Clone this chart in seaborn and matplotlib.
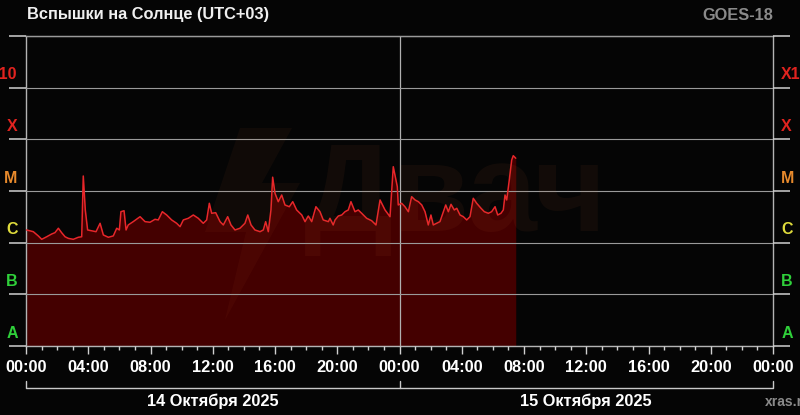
import numpy as np
import pandas as pd
import matplotlib
matplotlib.use("Agg")
import matplotlib.pyplot as plt
import matplotlib.transforms as mtransforms
from matplotlib.patches import Polygon
import seaborn as sns

# GOES X-ray flux, hours since 14 Oct 2025 00:00 (UTC+03), W/m^2
hours = [
    0.04, 0.47, 0.79, 1.01, 1.33, 1.65, 1.86, 2.08, 2.29, 2.51, 2.72, 3.04, 3.36, 3.58,
    3.68, 3.81, 3.96, 4.22, 4.50, 4.76, 4.97, 5.29, 5.61, 5.83, 6.00, 6.10, 6.30, 6.43,
    6.57, 6.89, 7.33, 7.65, 7.97, 8.29, 8.50, 8.76, 9.04, 9.36, 9.68, 9.90, 10.11, 10.43,
    10.75, 11.07, 11.39, 11.61, 11.78, 11.93, 12.19, 12.47, 12.68, 12.96, 13.17, 13.43,
    13.75, 14.07, 14.25, 14.46, 14.71, 15.04, 15.25, 15.40, 15.57, 15.74, 15.85, 16.00,
    16.21, 16.43, 16.64, 16.92, 17.14, 17.39, 17.72, 17.93, 18.14, 18.36, 18.63, 18.89,
    19.10, 19.43, 19.53, 19.74, 19.86, 20.07, 20.29, 20.50, 20.71, 20.88, 21.14, 21.35,
    21.57, 21.89, 22.21, 22.49, 22.75, 23.07, 23.39, 23.60, 23.86, 23.92, 24.14, 24.35,
    24.57, 24.78, 25.00, 25.21, 25.43, 25.64, 25.85, 26.02, 26.17, 26.39, 26.60, 26.82,
    26.97, 27.14, 27.31, 27.52, 27.68, 27.89, 28.10, 28.32, 28.53, 28.74, 28.96, 29.24,
    29.45, 29.71, 29.92, 30.14, 30.31, 30.52, 30.67, 30.78, 30.89, 31.04, 31.21, 31.31,
    31.47,
]
flux = [
    1.76e-6, 1.63e-6, 1.35e-6, 1.16e-6, 1.30e-6, 1.47e-6, 1.56e-6, 1.90e-6, 1.56e-6,
    1.30e-6, 1.21e-6, 1.16e-6, 1.27e-6, 1.30e-6, 1.95e-5, 4.29e-6, 1.76e-6, 1.70e-6,
    1.63e-6, 2.37e-6, 1.41e-6, 1.27e-6, 1.35e-6, 1.90e-6, 1.76e-6, 3.97e-6, 4.15e-6,
    1.76e-6, 2.20e-6, 2.55e-6, 3.18e-6, 2.55e-6, 2.48e-6, 2.83e-6, 2.75e-6, 3.97e-6,
    3.43e-6, 2.75e-6, 2.37e-6, 2.04e-6, 2.75e-6, 2.96e-6, 3.43e-6, 2.96e-6, 2.37e-6,
    2.75e-6, 5.78e-6, 3.70e-6, 3.80e-6, 2.55e-6, 2.20e-6, 3.18e-6, 2.20e-6, 1.76e-6,
    1.90e-6, 2.37e-6, 3.43e-6, 2.20e-6, 1.76e-6, 1.63e-6, 1.76e-6, 2.55e-6, 1.63e-6,
    4.29e-6, 1.85e-5, 9.02e-6, 6.21e-6, 8.36e-6, 5.36e-6, 4.96e-6, 6.21e-6, 4.29e-6,
    3.43e-6, 2.55e-6, 3.28e-6, 2.55e-6, 4.96e-6, 3.97e-6, 2.75e-6, 2.55e-6, 2.96e-6,
    2.20e-6, 2.75e-6, 3.28e-6, 3.43e-6, 3.97e-6, 4.29e-6, 6.21e-6, 3.97e-6, 4.29e-6,
    3.70e-6, 2.96e-6, 2.66e-6, 2.20e-6, 6.70e-6, 4.29e-6, 3.18e-6, 2.95e-5, 1.21e-5,
    5.36e-6, 5.78e-6, 4.96e-6, 3.97e-6, 7.76e-6, 6.70e-6, 6.21e-6, 5.36e-6, 3.97e-6,
    2.20e-6, 3.43e-6, 2.20e-6, 2.37e-6, 2.55e-6, 3.97e-6, 5.36e-6, 3.97e-6, 5.52e-6,
    4.29e-6, 4.62e-6, 3.43e-6, 3.18e-6, 2.75e-6, 3.18e-6, 7.22e-6, 5.78e-6, 4.62e-6,
    3.97e-6, 3.70e-6, 3.97e-6, 4.96e-6, 3.43e-6, 3.70e-6, 4.29e-6, 8.36e-6, 6.70e-6,
    1.51e-5, 3.98e-5, 4.82e-5, 4.30e-5,
]

class_levels = [1e-8, 1e-7, 1e-6, 1e-5, 1e-4, 1e-3, 1e-2]
class_labels = ["A", "B", "C", "M", "X", "X10"]
class_label_pos = [1.9e-8, 1.9e-7, 1.9e-6, 1.9e-5, 1.9e-4, 1.9e-3]
class_colors = ["#2fd03a", "#2fd03a", "#e0dc3c", "#e88a2c", "#e0231f", "#e0231f"]

major_hours = list(range(0, 49, 4))
minor_hours = list(range(0, 49, 1))
tick_labels = ["00:00", "04:00", "08:00", "12:00", "16:00", "20:00",
               "00:00", "04:00", "08:00", "12:00", "16:00", "20:00", "00:00"]
day_labels = ["14 Октября 2025", "15 Октября 2025"]
day_centers = [12, 36]

df = pd.DataFrame({"hour": hours, "flux": flux})

bg = "#050505"
fs = 11.8
sns.set_style("dark")
plt.rcParams["font.family"] = ["Liberation Sans", "DejaVu Sans"]
plt.rcParams["font.weight"] = "bold"

fig = plt.figure(figsize=(8, 4.15), dpi=100, facecolor=bg)
ax = fig.add_axes([0.0325, 0.1663, 0.93375, 0.747])
ax.set_facecolor(bg)

# watermark
fig.text(0.57, 0.52, "Двач", fontsize=90, color="#c86432", alpha=0.07,
         ha="center", va="center", zorder=0)
bolt = [(240, 128), (292, 128), (262, 183), (300, 183), (225, 320), (246, 232), (205, 232)]
fig.patches.append(Polygon([(x / 800, 1 - y / 415) for x, y in bolt], closed=True,
                           transform=fig.transFigure, facecolor="#c86432", alpha=0.06,
                           edgecolor="none", zorder=0))

ax.fill_between(df["hour"], df["flux"], 1e-8, color="#440000", linewidth=0, zorder=1)
sns.lineplot(data=df, x="hour", y="flux", ax=ax, color="#e8262a", linewidth=1.1,
             zorder=3, sort=False)

ax.set_yscale("log")
ax.set_xlim(0, 48)
ax.set_ylim(1e-8, 1e-2)

# y axis: class boundaries and labels
ax.set_yticks(class_levels)
ax.set_yticklabels([])
ax.set_yticks(class_label_pos, minor=True)
ax.set_yticklabels(class_labels, minor=True)
ax.tick_params(axis="y", which="major", length=12.5, width=1.1, color="#d0d0d0",
               left=True, right=True, direction="out")
ax.tick_params(axis="y", which="minor", length=0, pad=6, labelsize=11.5,
               left=True, right=True, labelleft=True, labelright=True)
for tick, c in zip(ax.yaxis.get_minor_ticks(), class_colors):
    for lab in (tick.label1, tick.label2):
        lab.set_color(c)
        lab.set_fontweight("bold")

# x axis
ax.set_xticks(major_hours)
ax.set_xticklabels(tick_labels)
ax.set_xticks(minor_hours, minor=True)
ax.tick_params(axis="x", which="major", length=5.8, width=1, color="#d0d0d0",
               labelsize=fs, labelcolor="white", pad=4.5, bottom=True)
ax.tick_params(axis="x", which="minor", length=2.9, width=1, color="#d0d0d0", bottom=True)
for lab in ax.get_xticklabels():
    lab.set_fontweight("bold")

ax.grid(False)
ax.grid(axis="y", which="major", color="#9a9a9a", linewidth=0.8)
ax.set_axisbelow(False)
ax.axvline(24, color="#b0b0b0", linewidth=0.9, zorder=2.5)
for side in ["left", "right", "top", "bottom"]:
    ax.spines[side].set_visible(True)
    ax.spines[side].set_color("#b4b4b4")
    ax.spines[side].set_linewidth(1.0)
ax.set_xlabel("")
ax.set_ylabel("")

# date brackets under the axis
trans = mtransforms.blended_transform_factory(ax.transData, ax.transAxes)
y_hi, y_lo = -0.113, -0.1355
ax.plot([0, 0, 24, 24], [y_hi, y_lo, y_lo, y_hi], transform=trans, clip_on=False,
        color="#c8c8c8", linewidth=1.0)
ax.plot([24, 48, 48], [y_lo, y_lo, y_hi], transform=trans, clip_on=False,
        color="#c8c8c8", linewidth=1.0)
for xc, txt in zip(day_centers, day_labels):
    ax.text(xc, -0.177, txt, transform=trans, ha="center", va="center",
            fontsize=fs, fontweight="bold", color="white")

fig.text(27 / 800, 1 - 15 / 415, "Вспышки на Солнце (UTC+03)", ha="left", va="center",
         fontsize=fs, fontweight="bold", color="#f0f0f0")
fig.text(773 / 800, 1 - 16 / 415, "GOES-18", ha="right", va="center",
         fontsize=fs, fontweight="bold", color="#8a8a8a")
fig.text(765 / 800, 1 - 402 / 415, "xras.ru", ha="left", va="center",
         fontsize=10, fontweight="bold", color="#8a8a8a")

fig.savefig("out.png", dpi=100, facecolor=bg)
